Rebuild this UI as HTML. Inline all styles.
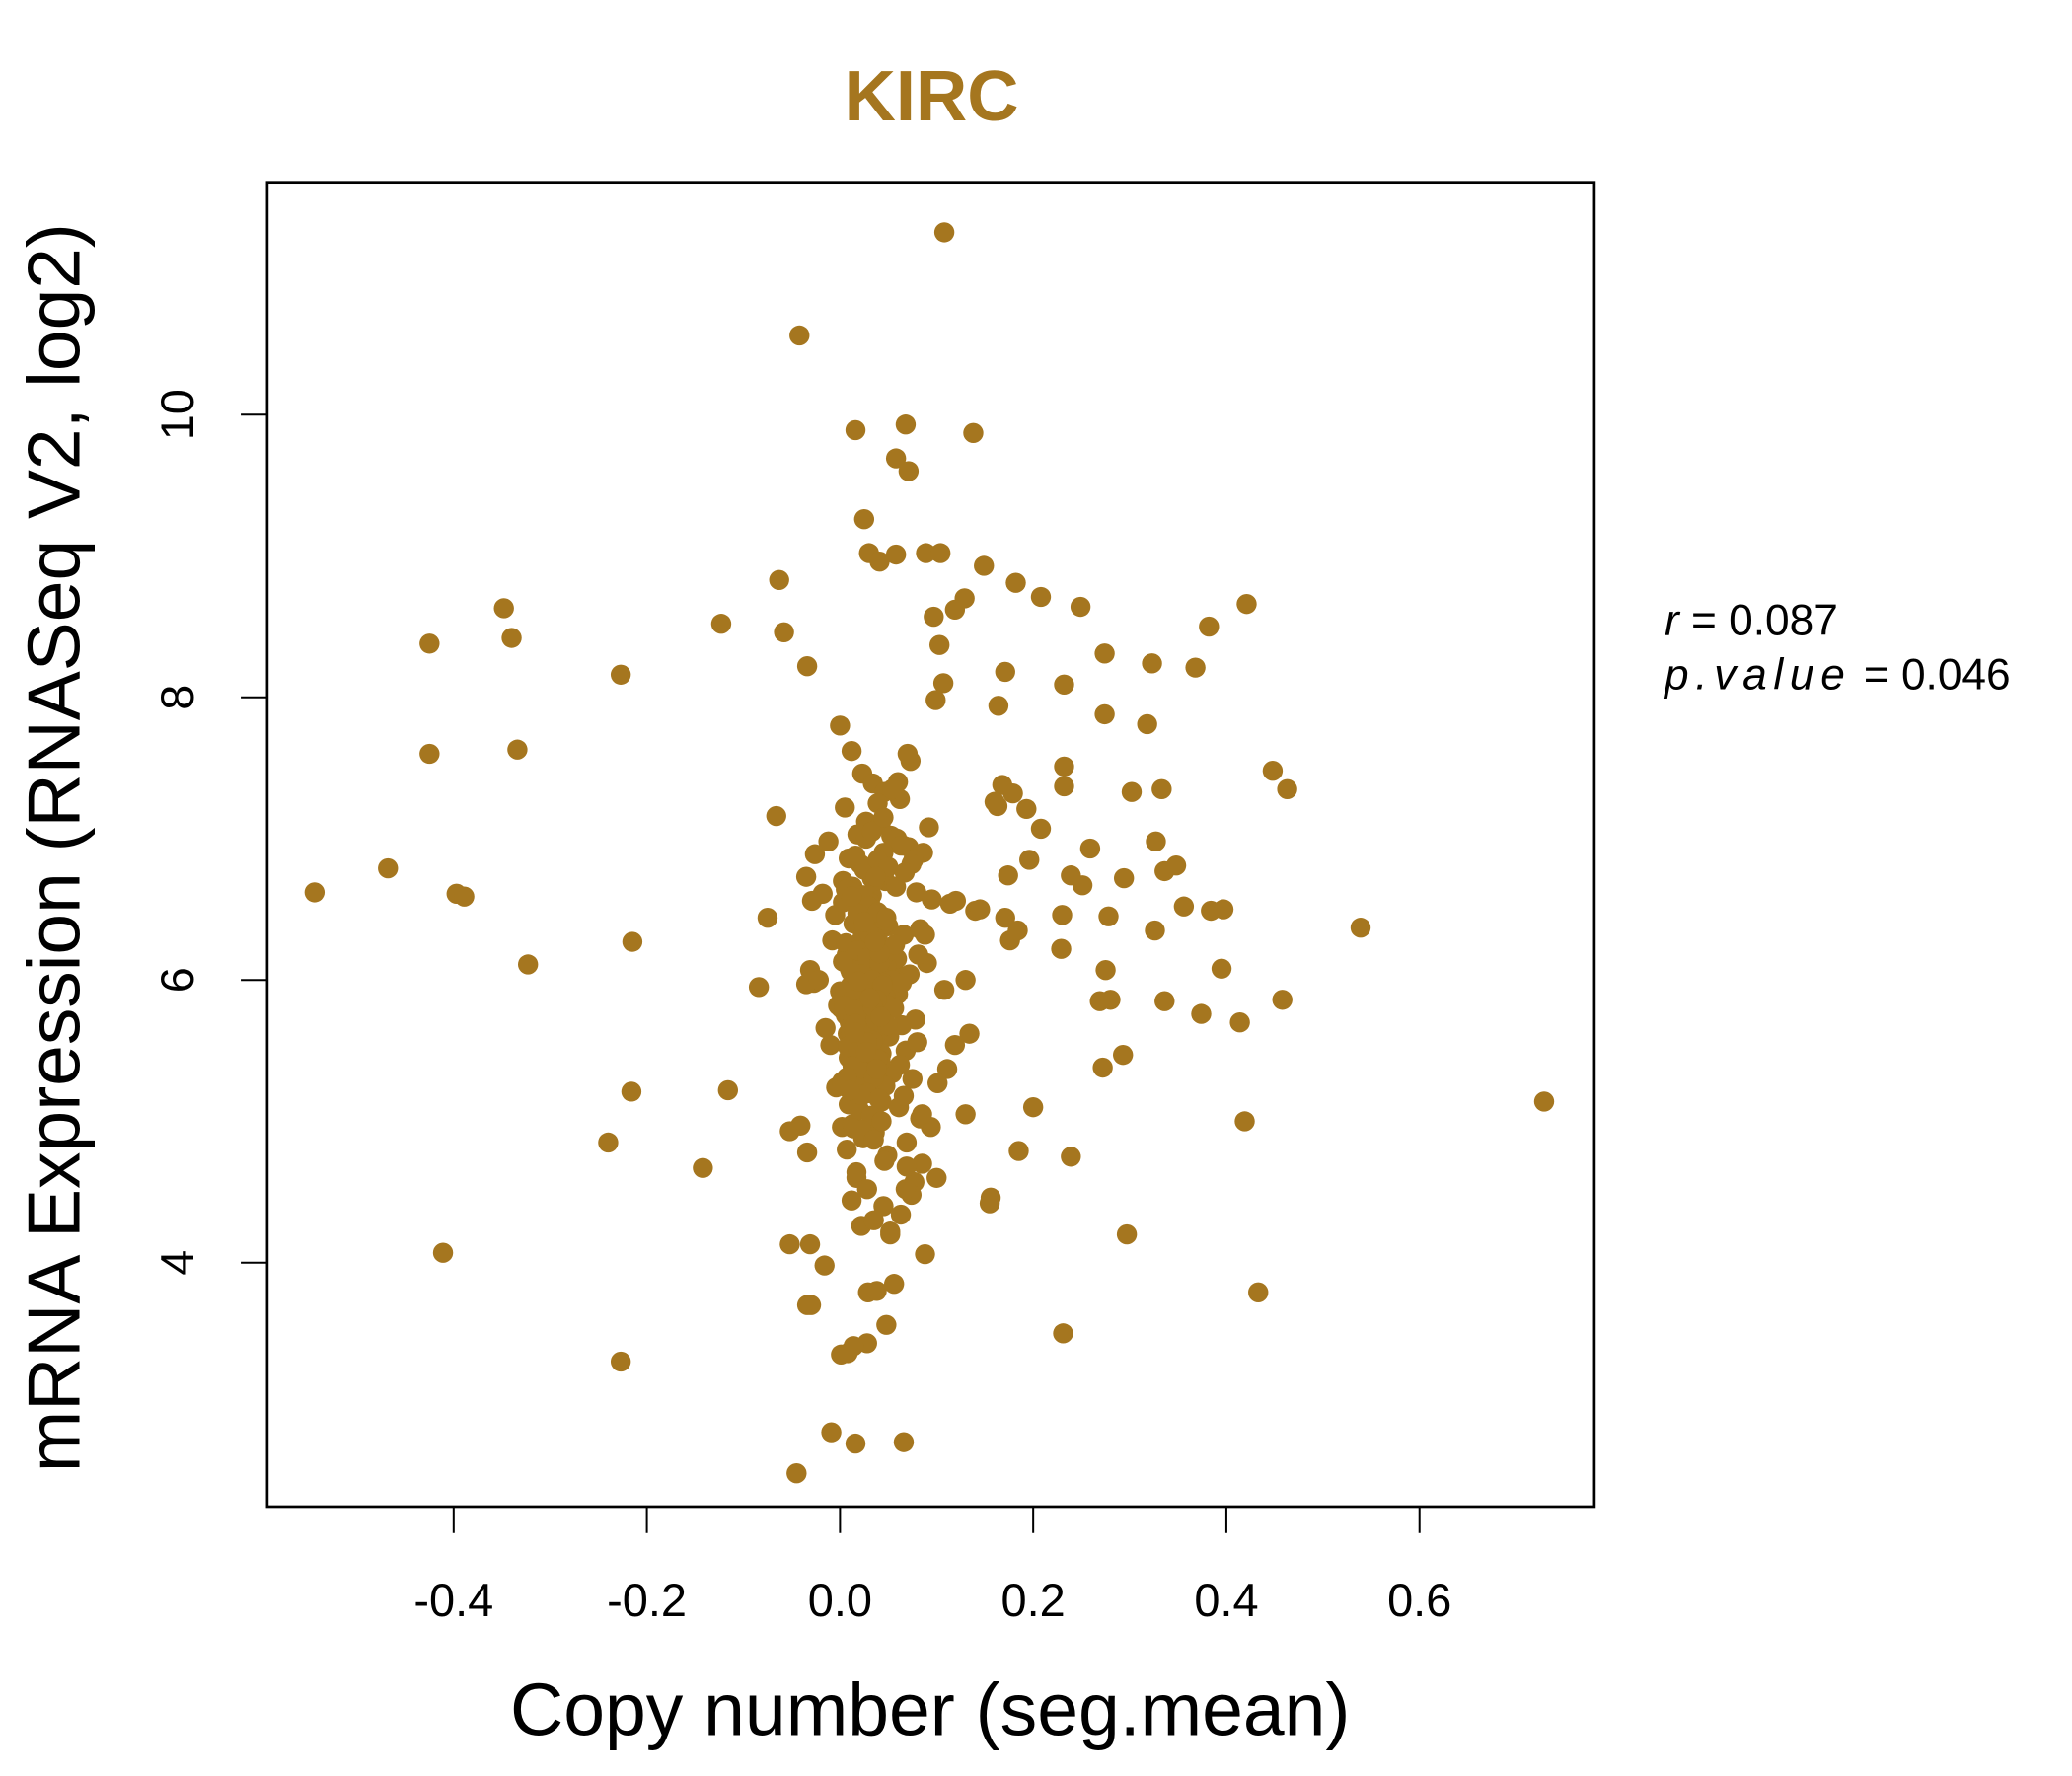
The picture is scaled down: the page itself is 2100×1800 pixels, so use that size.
<!DOCTYPE html>
<html><head><meta charset="utf-8"><style>
html,body{margin:0;padding:0;background:#fff;}
svg{display:block;}
text{font-family:"Liberation Sans",sans-serif;}
</style></head><body>
<svg id="chart" width="2100" height="1800" viewBox="0 0 1566 1345" preserveAspectRatio="none" xmlns="http://www.w3.org/2000/svg">
<rect width="1566" height="1345" fill="#fff"/>
<text x="704" y="91" font-size="54" font-weight="bold" fill="#A5761F" text-anchor="middle">KIRC</text>
<g id="points"></g>
<rect x="202" y="138" width="1003" height="1003" fill="none" stroke="#000" stroke-width="2"/>
<g id="xaxis"></g>
<g id="yaxis"></g>
<text x="703" y="1314" font-size="56" text-anchor="middle">Copy number (seg.mean)</text>
<text transform="translate(60,642) rotate(-90)" font-size="56" text-anchor="middle">mRNA Expression (RNASeq V2, log2)</text>
<text x="1258" y="481" font-size="33"><tspan font-style="italic">r</tspan> = 0.087</text>
<text x="1258" y="522" font-size="33"><tspan font-style="italic" letter-spacing="5">p.value</tspan> = 0.046</text>
</svg>
<script>
const xTicks=[-0.4,-0.2,0.0,0.2,0.4,0.6];
const xTickLabels=["-0.4","-0.2","0.0","0.2","0.4","0.6"];
const yTicks=[4,6,8,10];
const yTickLabels=["4","6","8","10"];
const cnX=[-0.544,-0.468,-0.425,-0.425,-0.348,-0.340,-0.334,-0.397,-0.389,-0.323,-0.411,-0.227,-0.215,-0.216,-0.240,-0.227,-0.123,-0.116,-0.142,-0.084,-0.075,-0.066,-0.063,-0.058,-0.042,0.108,0.016,0.068,0.138,0.058,0.071,0.025,0.030,0.041,0.058,0.089,0.104,0.149,0.182,0.208,0.249,0.421,0.382,0.129,0.119,0.097,0.103,0.274,0.323,0.368,0.171,0.232,0.107,0.099,0.164,0.274,0.318,-0.034,0.448,0.463,0.232,0.232,0.168,0.179,0.193,0.160,0.163,0.208,0.302,0.333,0.327,0.259,0.336,0.348,0.294,0.251,0.239,0.174,0.196,0.140,0.356,0.384,0.397,0.145,0.176,0.230,0.278,0.326,0.184,0.171,0.539,0.120,0.114,0.229,0.275,0.395,0.130,0.108,0.269,0.280,0.336,0.374,0.414,0.458,0.119,0.134,0.293,0.272,0.111,0.101,0.200,0.130,0.094,0.419,0.729,0.185,0.239,0.085,0.077,0.156,0.155,0.297,0.088,0.433,0.231,0.029,0.038,0.056,0.048,0.028,0.008,0.014,0.001,-0.034,-0.030,-0.016,-0.052,-0.031,-0.009,0.016,0.066,-0.045,-0.041,-0.034,-0.052,-0.027,-0.035,-0.031,-0.026,-0.035,-0.029,-0.005,0.000,0.012,0.023,0.034,0.046,0.062,0.005,0.018,0.027,0.042,0.053,0.071,0.086,-0.012,0.009,0.021,0.033,0.047,0.058,0.079,0.095,-0.018,0.003,0.014,0.025,0.037,0.050,0.066,0.083,-0.008,0.007,0.019,0.030,0.041,0.055,0.072,0.090,-0.022,0.000,0.011,0.022,0.032,0.044,0.060,0.078,-0.015,0.004,0.015,0.026,0.038,0.051,0.068,-0.010,0.008,0.018,0.029,0.040,0.054,0.075,-0.004,0.010,0.020,0.031,0.043,0.061,0.083,0.002,0.013,0.024,0.036,0.049,0.069,0.007,0.017,0.028,0.045,0.063,0.012,0.022,0.035,0.052,0.074,0.020,0.039,0.059,0.001,0.016,0.033,0.048,0.011,0.027,0.044,0.057,0.006,0.023,0.040,-0.002,0.019,0.037,0.055,0.010,0.031,0.050,0.024,0.046,0.064,0.015,0.035,0.008,0.028,0.047,0.020,0.042,0.012,0.032,0.005,0.026,0.045,0.018,0.038,0.029,0.050,0.021,0.043,0.013,0.034,0.025,0.040,0.016,0.036,0.022,0.044,0.030,0.009,0.027,0.047,0.019,0.039,0.024,0.060,0.073,0.066,0.080,0.057,0.069,0.085,0.062,0.076,0.054,0.092,0.064,0.100,0.081,0.070,0.088,0.066,0.052,0.074,0.059,0.047,0.068,0.056,0.063,0.045,0.039,0.050,0.067,
0.003,0.012,0.021,0.030,0.039,0.048,0.014,0.025,0.036,0.006,0.018,0.029,0.041,0.010,0.022,0.033,0.044,0.016,0.027,0.038,0.004,0.015,0.026,0.037,0.049,0.011,0.023,0.034,0.008,0.019,0.031,0.042,0.013,0.024,0.035,0.002,0.017,0.028,0.040,0.009,0.020,0.032,0.043,0.014,0.026,0.037,0.006,0.018,0.030,0.041,0.011,0.023,0.034,0.016,0.028,0.039,0.007,0.021,0.033,0.045,0.012,0.025,0.036,0.003,0.019,0.031,0.042,0.015,0.027,0.038,0.010,0.022,0.035,0.046,0.017,0.029,0.040,0.008,0.024,0.032];
const cnY=[6.62,6.79,7.60,8.38,8.63,8.42,7.63,6.61,6.59,6.11,4.07,8.16,6.27,5.21,4.85,3.30,8.52,5.22,4.67,5.95,6.44,7.16,8.83,8.46,10.56,11.29,9.89,9.93,9.87,9.69,9.60,9.26,9.02,8.96,9.01,9.02,9.02,8.93,8.81,8.71,8.64,8.66,8.50,8.70,8.62,8.57,8.37,8.31,8.24,8.21,8.18,8.09,8.10,7.98,7.94,7.88,7.81,8.22,7.48,7.35,7.51,7.37,7.38,7.32,7.21,7.26,7.23,7.07,7.33,7.35,6.98,6.93,6.77,6.81,6.72,6.67,6.74,6.74,6.85,6.49,6.52,6.49,6.50,6.50,6.28,6.46,6.45,6.35,6.35,6.44,6.37,6.56,6.54,6.22,6.07,6.08,6.00,5.93,5.85,5.86,5.85,5.76,5.70,5.86,5.54,5.62,5.47,5.38,5.37,5.27,5.10,5.05,4.96,5.00,5.14,4.79,4.75,4.70,4.57,4.46,4.42,4.20,4.06,3.79,3.50,3.79,3.80,3.85,3.56,3.43,3.36,3.41,3.35,3.70,3.70,3.98,4.13,4.13,2.80,2.72,2.73,2.51,4.97,4.78,4.93,5.98,5.97,6.07,6.89,6.73,6.56,6.46,7.80,7.62,7.46,7.39,7.33,7.28,7.22,7.03,7.12,7.10,7.02,6.94,6.90,6.98,6.86,6.82,6.72,6.70,6.66,6.62,6.57,6.61,6.55,6.40,6.46,6.42,6.38,6.32,6.36,6.28,6.18,6.20,6.25,6.14,6.10,6.04,6.12,6.00,5.92,5.96,6.02,5.88,5.84,5.90,5.72,5.66,5.78,5.70,5.68,5.74,5.60,5.50,5.54,5.62,5.46,5.42,5.40,5.34,5.30,5.24,5.28,5.32,5.20,5.14,5.10,5.02,4.96,4.98,4.88,4.92,4.76,4.68,4.80,4.60,4.52,4.40,4.34,4.44,4.26,4.30,4.22,4.48,6.50,6.30,6.15,5.80,5.55,6.60,6.10,5.85,5.65,6.45,5.95,5.75,6.35,6.05,5.82,5.58,6.25,6.00,5.70,6.55,6.20,5.90,6.40,5.98,5.60,6.12,5.78,6.30,5.88,6.08,5.66,6.22,5.52,5.92,6.36,5.72,6.02,5.62,6.18,5.82,6.48,5.48,6.66,5.38,6.78,5.28,6.88,6.70,6.28,5.98,6.55,5.45,7.00,6.40,5.15,7.25,6.60,7.40,7.55,6.95,5.56,6.25,4.85,5.05,5.40,6.85,7.35,7.08,5.68,4.60,6.18,7.60,6.32,5.18,4.20,6.82,7.00,5.25,4.52,5.80,
6.95,6.90,6.85,6.80,6.76,6.70,6.62,6.58,6.52,6.48,6.44,6.40,6.34,6.30,6.26,6.21,6.16,6.12,6.08,6.04,6.00,5.96,5.93,5.89,5.86,5.82,5.79,5.75,5.72,5.68,5.64,5.61,5.57,5.53,5.50,5.46,5.43,5.39,5.35,5.31,5.28,5.24,5.20,5.16,5.12,5.08,5.04,5.00,4.95,4.90,6.73,6.64,6.47,6.33,6.19,6.06,5.94,5.81,5.69,5.56,5.44,5.31,5.19,7.05,7.15,6.59,6.41,6.27,6.13,5.99,5.87,5.74,5.63,5.49,5.37,5.22,4.94,4.87,4.72,4.64];
const X0=202,X1=1205,Y0=138,Y1=1141;
const xMin=-0.593,xMax=0.781,yMin=2.274,yMax=11.644;
function sx(v){return X0+(v-xMin)/(xMax-xMin)*(X1-X0);}
function sy(v){return Y1-(v-yMin)/(yMax-yMin)*(Y1-Y0);}
const NS="http://www.w3.org/2000/svg";
const pg=document.getElementById('points');
const n=Math.min(cnX.length,cnY.length);
for(let i=0;i<n;i++){
  const c=document.createElementNS(NS,'circle');
  c.setAttribute('cx',sx(cnX[i]));c.setAttribute('cy',sy(cnY[i]));c.setAttribute('r',7.6);
  c.setAttribute('fill','#A5761F');
  
  
  pg.appendChild(c);
}
const xa=document.getElementById('xaxis');
xTicks.forEach((t,i)=>{
  const l=document.createElementNS(NS,'line');
  l.setAttribute('x1',sx(t));l.setAttribute('x2',sx(t));l.setAttribute('y1',Y1);l.setAttribute('y2',Y1+20);
  l.setAttribute('stroke','#000');l.setAttribute('stroke-width','1.5');
  
  
  xa.appendChild(l);
  const tx=document.createElementNS(NS,'text');
  tx.setAttribute('x',sx(t));tx.setAttribute('y',1224);tx.setAttribute('font-size','35');tx.setAttribute('text-anchor','middle');
  tx.textContent=xTickLabels[i];
  
  
  xa.appendChild(tx);
});
const ya=document.getElementById('yaxis');
yTicks.forEach((t,i)=>{
  const l=document.createElementNS(NS,'line');
  l.setAttribute('x1',X0-20);l.setAttribute('x2',X0);l.setAttribute('y1',sy(t));l.setAttribute('y2',sy(t));
  l.setAttribute('stroke','#000');l.setAttribute('stroke-width','1.5');
  
  
  ya.appendChild(l);
  const tx=document.createElementNS(NS,'text');
  tx.setAttribute('transform','translate(146,'+sy(t)+') rotate(-90)');
  tx.setAttribute('font-size','35');tx.setAttribute('text-anchor','middle');
  tx.textContent=yTickLabels[i];
  
  
  ya.appendChild(tx);
});
</script>
</body></html>
